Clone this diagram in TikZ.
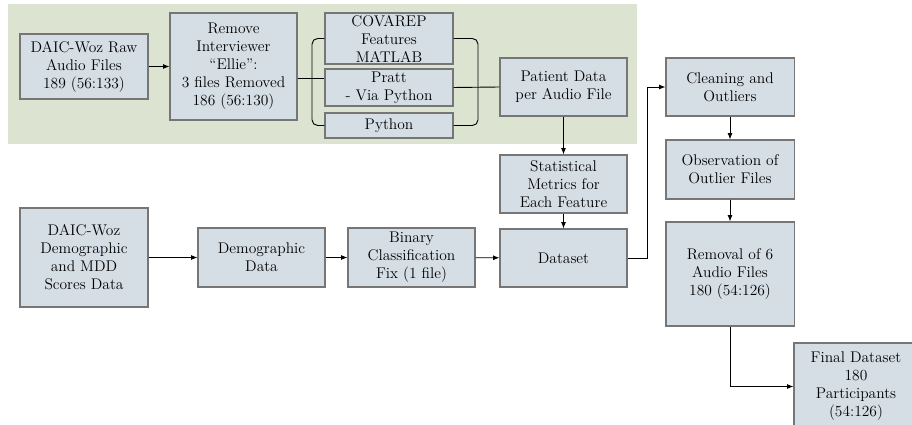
\documentclass[tikz,border=0pt]{standalone}
\usepackage{tikz}
\usepackage{xcolor}
\usetikzlibrary{arrows.meta,positioning}
\definecolor{boxfill}{RGB}{213,221,229}
\definecolor{boxedge}{RGB}{118,118,118}
\definecolor{stagegreen}{RGB}{221,227,209}

\begin{document}
\begin{tikzpicture}[x=0.025cm,y=-0.025cm,
      stage/.style={rectangle,draw=boxedge,line width=0.75pt,fill=boxfill,
        minimum width=3.2cm,inner sep=0pt,align=center,
        font=\fontsize{11}{12.8}\selectfont},
      link/.style={line width=0.65pt,black},
      flow/.style={link,-{Latex[length=4.5pt,width=3.5pt]}}
    ]
    \useasboundingbox (0,0) rectangle (912,425);
    \fill[stagegreen] (8,4) rectangle (637,144);

    % audio branch
    \node[stage,minimum height=1.625cm] at (84,66.5) (raw) {DAIC-Woz Raw\\Audio Files\\189 (56:133)};
    \node[stage,minimum height=2.675cm,minimum width=3.175cm] at (233.5,66.5) (remove) {Remove\\Interviewer\\``Ellie'':\\3 files Removed\\186 (56:130)};
    \node[stage,minimum height=1.275cm] at (389,38.5) (covarep) {COVAREP\\Features\\MATLAB};
    \node[stage,minimum height=0.925cm] at (389,87.5) (pratt) {Pratt\\- Via Python};
    \node[stage,minimum height=0.625cm] at (389,125.5) (python) {Python};
    \node[stage,minimum height=1.45cm,minimum width=3.175cm] at (563.5,87) (patient) {Patient Data\\per Audio File};
    \node[stage,minimum height=1.45cm,minimum width=3.175cm] at (563.5,184) (stats) {Statistical\\Metrics for\\Each Feature};
    \node[stage,minimum height=1.45cm,minimum width=3.175cm] at (563.5,258) (dataset) {Dataset};

    % demographic branch
    \node[stage,minimum height=2.475cm] at (84,257.5) (demo) {DAIC-Woz\\Demographic\\and MDD\\Scores Data};
    \node[stage,minimum height=1.475cm,minimum width=3.175cm] at (261.5,257.5) (demodata) {Demographic\\Data};
    \node[stage,minimum height=1.475cm,minimum width=3.175cm] at (411.5,257.5) (binary) {Binary\\Classification\\Fix (1 file)};

    % cleaning column
    \node[stage,minimum height=1.45cm] at (730,87) (clean) {Cleaning and\\Outliers};
    \node[stage,minimum height=1.475cm] at (730,169.5) (observe) {Observation of\\Outlier Files};
    \node[stage,minimum height=2.6cm] at (730,274) (removal) {Removal of 6\\Audio Files\\180 (54:126)};
    \node[stage,minimum height=2.175cm,minimum width=3.1cm] at (856,386.5) (final) {Final Dataset\\180\\Participants\\(54:126)};

    \coordinate (ltip) at (312,78);
    \coordinate (rtip) at (478,87.5);

    \draw[flow] (raw) -- (remove);
    \draw[link] (remove.east |- ltip) -- (pratt.west |- ltip);
    \draw[link,rounded corners=4pt] (covarep.west) -| (ltip) |- (python.west);
    \draw[link,rounded corners=4pt] (covarep.east) -| (rtip) |- (python.east);
    \draw[link] (pratt.east) -- (patient.west);
    \draw[flow] (patient) -- (stats);
    \draw[flow] (stats) -- (dataset);

    \draw[flow] (demo) -- (demodata);
    \draw[flow] (demodata) -- (binary);
    \draw[flow] (binary) -- (dataset);

    \draw[flow] (dataset.east) -- ++(20,0) |- (clean.west);
    \draw[flow] (clean) -- (observe);
    \draw[flow] (observe) -- (removal);
    \draw[flow] (removal.south) |- (final.west);
  \end{tikzpicture}
\end{document}
